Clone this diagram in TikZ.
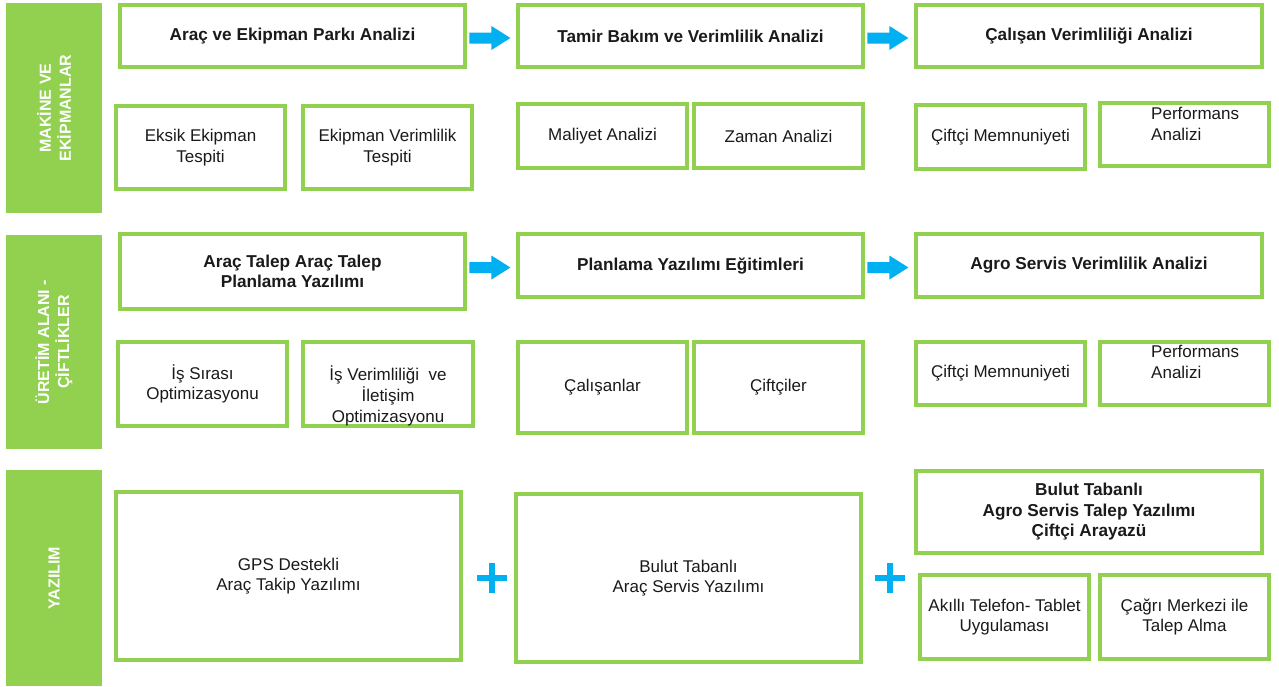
\documentclass[tikz,border=0pt]{standalone}
\usepackage{fontspec}
\setmainfont{Liberation Sans}
\usetikzlibrary{calc}
\definecolor{lgreen}{HTML}{92D050}
\definecolor{ablue}{HTML}{00B0F0}
\definecolor{txt}{HTML}{1A1A1A}
\tikzset{
  box/.style={draw=lgreen, line width=3.2pt, fill=white, align=center, text=txt,
    font=\fontsize{17}{20.5}\selectfont, inner sep=2pt},
  boldbox/.style={box, font=\bfseries\fontsize{17.2}{20.5}\selectfont},
  sidebar/.style={fill=lgreen, draw=none, text=white, align=center, rotate=90,
    font=\bfseries\fontsize{16}{20}\selectfont, inner sep=0pt},
  plaintext/.style={text=txt, align=center, font=\fontsize{17}{21}\selectfont, inner sep=0pt},
}
% \bx[style]{name}{x1}{y1}{x2}{y2}{text}
\newcommand{\bx}[7][box]{\node[#1, minimum width={(#5-#3)*1pt}, minimum height={(#6-#4)*1pt}] (#2) at ({(#3+#5)/2},{(#4+#6)/2}) {#7};}
\newcommand{\barrow}[2]{\fill[ablue] ($(#2.west)+(-47,-3.5)$) -- ++(22,0) -- ++(0,-6.5) -- ++(19,12) -- ++(-19,12) -- ++(0,-6.5) -- ++(-22,0) -- cycle;}
\newcommand{\plussign}[1]{\fill[ablue] ($(#1)+(-15,-3)$) rectangle ($(#1)+(15,3)$); \fill[ablue] ($(#1)+(-3,-15)$) rectangle ($(#1)+(3,15)$);}
\begin{document}
\begin{tikzpicture}[x=1pt,y=-1pt]
\useasboundingbox (0,0) rectangle (1279,686);
\fill[white] (0,0) rectangle (1279,686);
% side bars
\node[sidebar, minimum width=210pt, minimum height=96pt] (s1) at (54,108) {MAKİNE VE\\EKİPMANLAR};
\node[sidebar, minimum width=214pt, minimum height=96pt] (s2) at (54,342) {ÜRETİM ALANI -\\ÇİFTLİKLER};
\node[sidebar, minimum width=216pt, minimum height=96pt] (s3) at (54,578) {YAZILIM};
% row 1
\bx[boldbox]{a1}{120}{5}{465}{67}{Araç ve Ekipman Parkı Analizi}
\bx[boldbox]{a2}{518}{5}{863}{67}{Tamir Bakım ve Verimlilik Analizi}
\bx[boldbox]{a3}{916}{5}{1262}{67}{Çalışan Verimliliği Analizi}
\barrow{a1}{a2}
\barrow{a2}{a3}
\bx{b1}{116}{106}{285}{189}{Eksik Ekipman\\Tespiti}
\bx{b2}{303}{106}{472}{189}{Ekipman Verimlilik\\Tespiti}
\bx{b3}{518}{104}{687}{168}{Maliyet Analizi}
\bx{b4}{694}{104}{863}{168}{Zaman Analizi}
\bx{b5}{916}{105}{1085}{169}{Çiftçi Memnuniyeti}
\bx{b6}{1100}{103}{1269}{166}{}
\node[plaintext, align=left, anchor=north west] (b6t) at (1151,107) {Performans\\Analizi};
% row 2
\bx[boldbox]{c1}{120}{234}{465}{309}{Araç Talep Araç Talep\\Planlama Yazılımı}
\bx[boldbox]{c2}{518}{234}{863}{297}{Planlama Yazılımı Eğitimleri}
\bx[boldbox]{c3}{916}{234}{1262}{297}{Agro Servis Verimlilik Analizi}
\barrow{c1}{c2}
\barrow{c2}{c3}
\bx{d1}{118}{342}{287}{426}{İş Sırası\\Optimizasyonu}
\bx{d2}{303}{342}{473}{426}{}
\node[plaintext] (d2t) at (388,396) {İş Verimliliği\ \ ve\\İletişim\\Optimizasyonu};
\bx{d3}{518}{342}{687}{433}{Çalışanlar}
\bx{d4}{694}{342}{863}{433}{Çiftçiler}
\bx{d5}{916}{342}{1085}{405}{Çiftçi Memnuniyeti}
\bx{d6}{1100}{342}{1269}{405}{}
\node[plaintext, align=left, anchor=north west] (d6t) at (1151,345) {Performans\\Analizi};
% row 3
\bx{e1}{116}{492}{461}{660}{GPS Destekli\\Araç Takip Yazılımı}
\bx{e2}{516}{494}{861}{662}{Bulut Tabanlı\\Araç Servis Yazılımı}
\bx[boldbox]{e3}{916}{471}{1262}{553}{Bulut Tabanlı\\Agro Servis Talep Yazılımı\\Çiftçi Arayazü}
\bx{e4}{920}{575}{1089}{659}{Akıllı Telefon- Tablet\\Uygulaması}
\bx{e5}{1100}{575}{1269}{659}{Çağrı Merkezi ile\\Talep Alma}
\coordinate (p1) at (492,578);
\coordinate (p2) at (890,578);
\plussign{p1}
\plussign{p2}
\end{tikzpicture}
\end{document}
